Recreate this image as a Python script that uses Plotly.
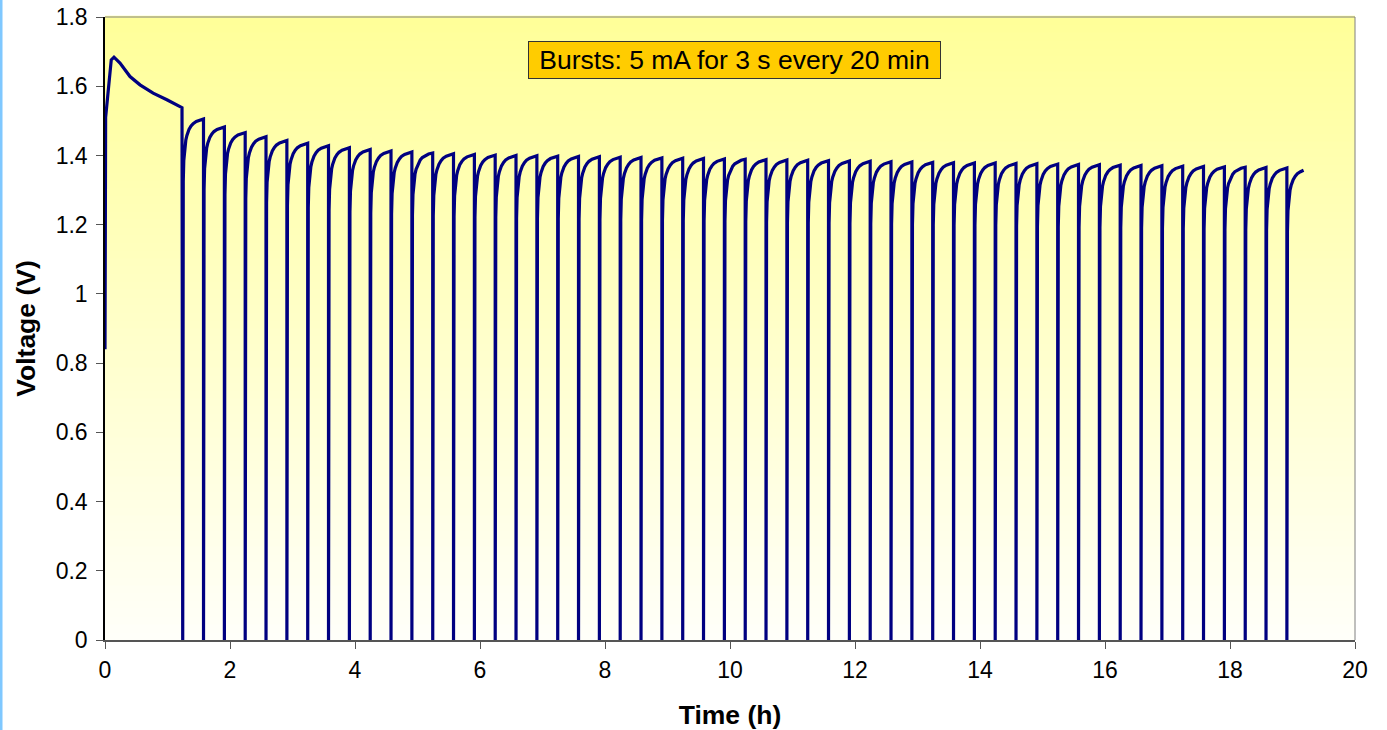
import numpy as np
import plotly.graph_objects as go

# ---- data ----
# initial open-circuit segment (hours, volts) before the first burst
initial_t = [0.0, 0.0, 0.01, 0.10, 0.144, 0.24, 0.40, 0.56, 0.77, 0.99, 1.232]
initial_v = [0.0, 0.84, 1.51, 1.676, 1.684, 1.667, 1.628, 1.604, 1.580, 1.561, 1.538]

# start time of each 3 s burst (hours)
burst_t = [1.243, 1.576, 1.910, 2.243, 2.576, 2.910, 3.243, 3.576, 3.910, 4.243,
           4.576, 4.910, 5.243, 5.576, 5.910, 6.243, 6.576, 6.910, 7.243, 7.576,
           7.910, 8.243, 8.576, 8.910, 9.243, 9.576, 9.910, 10.243, 10.576, 10.910,
           11.243, 11.576, 11.910, 12.243, 12.576, 12.910, 13.243, 13.576, 13.910, 14.243,
           14.576, 14.910, 15.243, 15.576, 15.910, 16.243, 16.576, 16.910, 17.243, 17.576,
           17.910, 18.243, 18.576, 18.910]

# recovered (peak) voltage reached after each burst (V)
peak_v = [1.505, 1.482, 1.466, 1.454, 1.443, 1.435, 1.428, 1.422, 1.417, 1.413,
          1.410, 1.407, 1.405, 1.403, 1.401, 1.400, 1.399, 1.398, 1.397, 1.396,
          1.395, 1.394, 1.393, 1.392, 1.391, 1.390, 1.389, 1.388, 1.387, 1.386,
          1.385, 1.384, 1.383, 1.382, 1.381, 1.380, 1.379, 1.378, 1.378, 1.377,
          1.376, 1.375, 1.374, 1.373, 1.372, 1.371, 1.370, 1.369, 1.368, 1.367,
          1.366, 1.365, 1.364, 1.360]

# recovery profile after a burst: minutes after burst end, deficit below peak (V)
recov_min = [0.05, 0.5, 1.0, 2.0, 3.0, 4.0, 6.0, 8.0, 10.0, 13.0, 16.0, 20.0]
recov_def = [0.40, 0.18, 0.12, 0.08, 0.06, 0.047, 0.03, 0.02, 0.013, 0.007, 0.003, 0.0]

burst_len_min = 0.05       # 3 s
end_time_h = 19.2

x_ticks = [0, 2, 4, 6, 8, 10, 12, 14, 16, 18, 20]
y_ticks = [0, 0.2, 0.4, 0.6, 0.8, 1, 1.2, 1.4, 1.6, 1.8]

# ---- build the waveform from the read values ----
ts = list(initial_t[1:])
vs = list(initial_v[1:])
for i, (tb, pk) in enumerate(zip(burst_t, peak_v)):
    ts += [tb + 0.0003, tb + burst_len_min / 60.0]
    vs += [0.0, 0.0]
    nxt = burst_t[i + 1] if i + 1 < len(burst_t) else None
    for m, d in zip(recov_min, recov_def):
        t = tb + (burst_len_min + m) / 60.0
        if t > end_time_h:
            break
        if nxt is not None and t >= nxt:
            t = nxt
        ts.append(t)
        vs.append(pk - d)

fig = go.Figure()

# gradient background of the plot area
n_str = 80
top = np.array([255, 255, 153])
bot = np.array([255, 255, 250])
shapes = []
for i in range(n_str):
    f = (i + 0.5) / n_str
    c = bot + (top - bot) * f
    shapes.append(dict(type="rect", xref="x domain", yref="y domain",
                       x0=0, x1=1, y0=i / n_str, y1=(i + 1) / n_str + 0.002,
                       fillcolor="rgb(%d,%d,%d)" % tuple(c.astype(int)),
                       line=dict(width=0), layer="below"))
# right & top border (grey)
shapes.append(dict(type="line", xref="x domain", yref="y domain", x0=1, x1=1, y0=0, y1=1,
                   line=dict(color="#808080", width=1), layer="above"))
shapes.append(dict(type="line", xref="x domain", yref="y domain", x0=0, x1=1, y0=1, y1=1,
                   line=dict(color="#808080", width=1), layer="above"))
# light blue strip at the left edge of the figure
shapes.append(dict(type="rect", xref="paper", yref="paper", xsizemode="pixel", xanchor=0,
                   x0=-105, x1=-102.5, y0=-0.2, y1=1.1,
                   fillcolor="#7FC8FF", line=dict(width=0), layer="above"))

fig.add_trace(go.Scatter(x=ts, y=vs, mode="lines",
                         line=dict(color="#000080", width=3.2), showlegend=False,
                         hoverinfo="skip"))

font_family = "Liberation Sans, Arial, sans-serif"
fig.update_layout(
    width=1387, height=730,
    margin=dict(l=105, r=32, t=17, b=90, autoexpand=False),
    paper_bgcolor="white", plot_bgcolor="white",
    shapes=shapes,
    font=dict(family=font_family, size=23, color="black"),
    xaxis=dict(range=[0, 20], tickvals=x_ticks, showgrid=False, zeroline=False,
               showline=True, linecolor="#555555", linewidth=1.5, automargin=False,
               ticks="outside", ticklen=7, tickcolor="#555555", tickfont=dict(size=23),
               ticklabelstandoff=2,
               title=dict(text="<b>Time (h)</b>", font=dict(size=26.5), standoff=24)),
    yaxis=dict(range=[0, 1.8], tickvals=y_ticks, showgrid=False, zeroline=False,
               showline=True, linecolor="black", linewidth=1.5, automargin=False,
               ticks="outside", ticklen=7, tickcolor="#555555", tickfont=dict(size=23),
               ticklabelstandoff=4,
               title=dict(text="<b>Voltage (V)</b>", font=dict(size=26.5), standoff=12)),
    annotations=[dict(x=10.07, y=1.676, xref="x", yref="y",
                      text="Bursts: 5 mA for 3 s every 20 min", showarrow=False,
                      width=407, height=32,
                      font=dict(size=26.5, color="black"),
                      bgcolor="#FFCC00", bordercolor="#333333", borderwidth=1, borderpad=2)],
)

fig.write_html("out.html", config={"displayModeBar": False},
               post_script="document.body.style.margin='0';")
